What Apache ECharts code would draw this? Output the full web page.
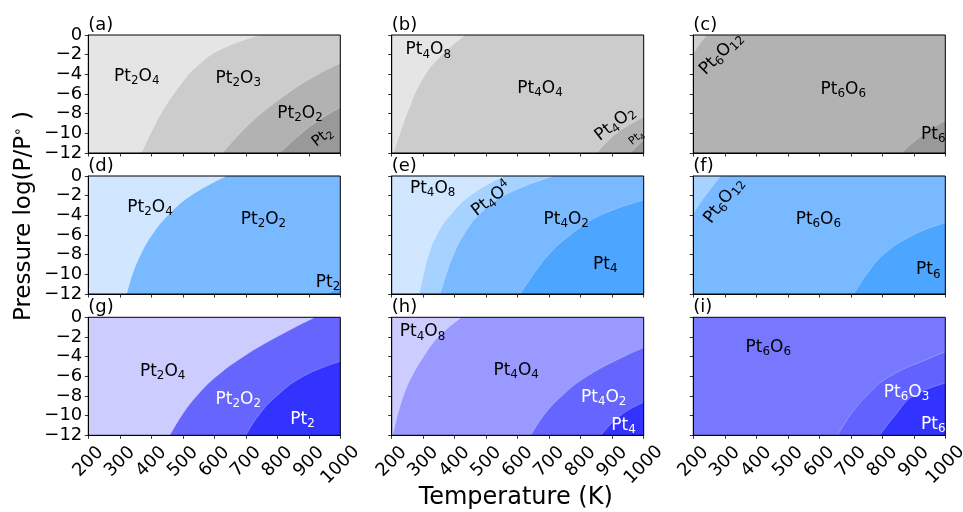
<!DOCTYPE html>
<html><head><meta charset="utf-8">
<script src="https://cdn.jsdelivr.net/npm/echarts@6/dist/echarts.min.js"></script>
<style>html,body{margin:0;padding:0;background:#fff}#c{width:963px;height:512px}</style>
</head><body><div id="c"></div>
<script>
// ---------- axes ----------
const xTicks = [200, 300, 400, 500, 600, 700, 800, 900, 1000];
const yTicks = [0, -2, -4, -6, -8, -10, -12];
const panelTags = ['(a)', '(b)', '(c)', '(d)', '(e)', '(f)', '(g)', '(h)', '(i)'];
const xTitle = 'Temperature (K)';
const yTitle = 'Pressure log(P/P{u|\u2218} )';

// ---------- phase boundaries [T, logP] ----------
const fullTop = [[200, 0], [1000, 0]];
// (a)
const a_b1 = [[369, -12], [398, -10], [438, -7.6], [496, -4.9], [544, -3.2], [618, -1.5], [745, 0]];
const a_b2 = [[626, -12], [713, -9], [819, -6.25], [925, -4.06], [1000, -2.87]];
const a_b3 = [[808, -12], [873, -10.1], [935, -8.6], [1000, -7.37]];
// (b)
const b_b1 = [[205, -12], [226, -10], [253, -7.6], [290, -4.9], [343, -2.54], [433, 0]];
const b_b2 = [[851, -12], [915, -9.97], [1000, -8.35]];
const b_b3 = [[957, -12], [1000, -10.65]];
// (c)
const c_b1 = [[200, -1.86], [221, -0.85], [242, 0]];
const c_b2 = [[861, -12], [930, -10.1], [1000, -8.7]];
// (d)
const d_b1 = [[322, -12], [340, -10], [366, -8], [402, -6], [453, -4], [525, -2], [639, 0]];
const d_b2 = [[951, -12], [1000, -11.4]];
// (e)
const e_b1 = [[287, -12], [301, -10], [317, -8], [343, -6], [385, -4], [449, -2], [555, 0]];
const e_b2 = [[354, -12], [373, -10], [396, -8], [428, -6], [475, -4], [555, -2], [714, 0]];
const e_b3 = [[608, -12], [650, -10], [698, -8], [767, -6], [862, -4], [1000, -2.44]];
// (f)
const f_b1 = [[200, -3.8], [232, -2.27], [287, 0]];
const f_b2 = [[710, -12], [750, -10], [803, -8], [898, -6], [1000, -4.75]];
// (g)
const g_b1 = [[459, -12], [496, -10], [544, -8], [607, -6], [692, -4], [798, -2], [920, 0]];
const g_b2 = [[700, -12], [740, -10], [798, -8], [883, -6], [1000, -4.48]];
// (h)
const h_b1 = [[203, -12], [218, -10], [237, -8], [264, -6], [301, -4], [348, -2], [422, 0]];
const h_b2 = [[642, -12], [682, -10], [740, -8], [820, -6], [936, -4], [1000, -3.1]];
const h_b3 = [[864, -12], [925, -10], [1000, -8.65]];
// (i)
const i_b1 = [[658, -12], [697, -10], [750, -8], [824, -6], [962, -4], [1000, -3.52]];
const i_b2 = [[792, -12], [840, -10], [898, -8], [1000, -6.7]];

// ---------- phase labels [text, T, logP] ----------
const a_labels = [['Pt_2O_4', 354, -4.23], ['Pt_2O_3', 676, -4.4], ['Pt_2O_2', 872, -7.95], ['Pt_2', 943, -10.4]];
const b_labels = [['Pt_4O_8', 316, -1.52], ['Pt_4O_4', 671, -5.4], ['Pt_4O_2', 909, -9.03], ['Pt_4', 977, -10.48]];
const c_labels = [['Pt_6O_12', 288, -1.9], ['Pt_6O_6', 676, -5.5], ['Pt_6', 962, -10.1]];
const d_labels = [['Pt_2O_4', 396, -3.19], ['Pt_2O_2', 756, -4.4], ['Pt_2', 961, -10.85]];
const e_labels = [['Pt_4O_8', 330, -1.25], ['Pt_4O^4', 517, -2.35], ['Pt_4O_2', 754, -4.4], ['Pt_4', 878, -9.0]];
const f_labels = [['Pt_6O_12', 297, -2.5], ['Pt_6O_6', 597, -4.4], ['Pt_6', 946, -9.56]];
const g_labels = [['Pt_2O_4', 436, -5.47], ['Pt_2O_2', 676, -8.38], ['Pt_2', 880, -10.36]];
const h_labels = [['Pt_4O_8', 298, -1.47], ['Pt_4O_4', 595, -5.4], ['Pt_4O_2', 873, -8.14], ['Pt_4', 936, -10.97]];
const i_labels = [['Pt_6O_6', 438, -3.08], ['Pt_6O_3', 877, -7.63], ['Pt_6', 962, -10.87]];

// ---------- styles ----------
const G = ['#e5e5e5', '#cccccc', '#b2b2b2', '#999999'];
const B = ['#d0e7ff', '#a6d2ff', '#78b9ff', '#4ca5ff'];
const P = ['#ccccff', '#9999ff', '#6666ff', '#3333ff'];
const panels = [
  { bounds: [fullTop, a_b1, a_b2, a_b3], colors: [G[0], G[1], G[2], G[3]], labels: a_labels,
    lst: [{}, {}, {}, { rotate: 38, fontSize: 15 }] },
  { bounds: [fullTop, b_b1, b_b2, b_b3], colors: [G[0], G[1], G[2], G[3]], labels: b_labels,
    lst: [{}, {}, { rotate: 38 }, { rotate: 38, fontSize: 11 }] },
  { bounds: [fullTop, c_b1, c_b2], colors: ['#cfcfcf', G[2], G[3]], labels: c_labels,
    lst: [{ rotate: 45 }, {}, {}] },
  { bounds: [fullTop, d_b1, d_b2], colors: [B[0], B[2], B[3]], labels: d_labels,
    lst: [{}, {}, {}] },
  { bounds: [fullTop, e_b1, e_b2, e_b3], colors: [B[0], B[1], B[2], B[3]], labels: e_labels,
    lst: [{}, { rotate: 38 }, {}, {}] },
  { bounds: [fullTop, f_b1, f_b2], colors: [B[1], B[2], B[3]], labels: f_labels,
    lst: [{ rotate: 52 }, {}, {}] },
  { bounds: [fullTop, g_b1, g_b2], colors: [P[0], P[2], P[3]], labels: g_labels,
    lst: [{}, { color: '#fff' }, { color: '#fff' }] },
  { bounds: [fullTop, h_b1, h_b2, h_b3], colors: [P[0], P[1], P[2], P[3]], labels: h_labels,
    lst: [{}, {}, { color: '#fff' }, { color: '#fff' }] },
  { bounds: [fullTop, i_b1, i_b2], colors: ['#7878ff', '#6262ff', P[3]], labels: i_labels,
    lst: [{}, { color: '#fff' }, { color: '#fff' }] }
];

const FONT = 'DejaVu Sans';
const colLeft = [88.3, 391.7, 693.3];
const rowTop = [35, 176, 317.3];
const W = 252, H = 118;
const X_MIN = xTicks[0], X_MAX = xTicks[xTicks.length - 1];
const Y_MIN = yTicks[yTicks.length - 1], Y_MAX = yTicks[0];
const ONE_PX_T = (X_MAX - X_MIN) / W; // one pixel in temperature units (seam overlap)

function toRich(s) {
  return s.replace(/_(\d+)/g, '{s|$1}').replace(/\^(\d+)/g, '{u|$1}');
}

function areaSeries(i, data, color, withLine, smooth) {
  return {
    type: 'line', xAxisIndex: i, yAxisIndex: i, data, symbol: 'none', showSymbol: false,
    smooth, silent: true, z: -1, animation: false,
    lineStyle: { width: withLine ? 0.7 : 0, color: 'rgba(255,255,255,0.35)' },
    areaStyle: { color, opacity: 1, origin: 'start' }
  };
}

const grid = [], xAxis = [], yAxis = [], series = [], graphic = [];
panels.forEach((p, i) => {
  const r = Math.floor(i / 3), c = i % 3;
  grid.push({ left: colLeft[c], top: rowTop[r], width: W, height: H, show: true,
    borderColor: '#000', borderWidth: 1, backgroundColor: 'transparent',
    containLabel: false, outerBoundsMode: 'none' });
  xAxis.push({
    type: 'value', gridIndex: i, min: X_MIN, max: X_MAX, interval: xTicks[1] - xTicks[0],
    axisLine: { show: true, onZero: false, lineStyle: { color: '#000', width: 1 } },
    axisTick: { show: true, length: 3.5, lineStyle: { color: '#000', width: 0.8 } },
    splitLine: { show: false },
    axisLabel: {
      show: r === 2, rotate: 45, align: 'center', verticalAlign: 'middle', margin: 26.5,
      fontSize: 18, fontFamily: FONT, color: '#000', hideOverlap: false,
      formatter: v => (v === 1000 ? '{w|1000}' : String(v)),
      rich: { w: { fontSize: 18, fontFamily: FONT, color: '#000', padding: [4.5, 4.5, 0, 0] } }
    }
  });
  yAxis.push({
    type: 'value', gridIndex: i, min: Y_MIN, max: Y_MAX, interval: yTicks[0] - yTicks[1],
    axisLine: { show: true, onZero: false, lineStyle: { color: '#000', width: 1 } },
    axisTick: { show: true, length: 3.5, lineStyle: { color: '#000', width: 0.8 } },
    splitLine: { show: false },
    axisLabel: {
      show: c === 0, margin: 6, fontSize: 18, fontFamily: FONT, color: '#000',
      formatter: v => (v < 0 ? '\u2212' + Math.abs(v) : String(v))
    }
  });
  p.bounds.forEach((b, j) => {
    if (j === 0) { series.push(areaSeries(i, b, p.colors[j], false, false)); return; }
    const last = b[b.length - 1];
    if (last[1] >= Y_MAX && last[0] < X_MAX) {
      // region continues along the top edge to the right border (overlap 1px to hide seam)
      series.push(areaSeries(i, [[last[0] - ONE_PX_T, Y_MAX], [X_MAX, Y_MAX]], p.colors[j], false, false));
    }
    series.push(areaSeries(i, b, p.colors[j], true, 0.45));
  });
  series.push({
    type: 'scatter', xAxisIndex: i, yAxisIndex: i, symbolSize: 1, silent: true, animation: false, z: 5,
    itemStyle: { color: 'rgba(0,0,0,0)' },
    data: p.labels.map((l, k) => {
      const st = p.lst[k] || {};
      const fs = st.fontSize || 17;
      const col = st.color || '#000';
      return {
        name: l[0], value: [l[1], l[2]],
        label: {
          show: true, position: 'inside', formatter: toRich(l[0]), rotate: st.rotate || 0,
          fontSize: fs, fontFamily: FONT, color: col, textBorderWidth: 0, opacity: 1,
          rich: {
            s: { fontSize: fs * 0.7, fontFamily: FONT, color: col, textBorderWidth: 0, padding: [fs * 0.55, 0, 0, 0] },
            u: { fontSize: fs * 0.7, fontFamily: FONT, color: col, textBorderWidth: 0, padding: [0, 0, fs * 0.55, 0] }
          }
        }
      };
    })
  });
  graphic.push({
    type: 'text', x: colLeft[c], y: rowTop[r] - 10, silent: true,
    style: { text: panelTags[i], font: '18px "DejaVu Sans"', fill: '#000', align: 'left', verticalAlign: 'middle' }
  });
});

graphic.push({
  type: 'text', x: 515.7, y: 498, silent: true,
  style: { text: xTitle, font: '24px "DejaVu Sans"', fill: '#000', align: 'center', verticalAlign: 'middle' }
});
graphic.push({
  type: 'text', x: 24, y: 216, rotation: Math.PI / 2, silent: true,
  style: {
    text: yTitle, font: '23px "DejaVu Sans"', fill: '#000', align: 'center', verticalAlign: 'middle',
    rich: { u: { font: '14px "DejaVu Sans"', fill: '#000', padding: [0, 0, 12, 0] } }
  }
});

const chart = echarts.init(document.getElementById('c'), null, { renderer: 'canvas' });
chart.setOption({
  animation: false,
  textStyle: { fontFamily: FONT },
  grid, xAxis, yAxis, series, graphic
});
</script></body></html>
